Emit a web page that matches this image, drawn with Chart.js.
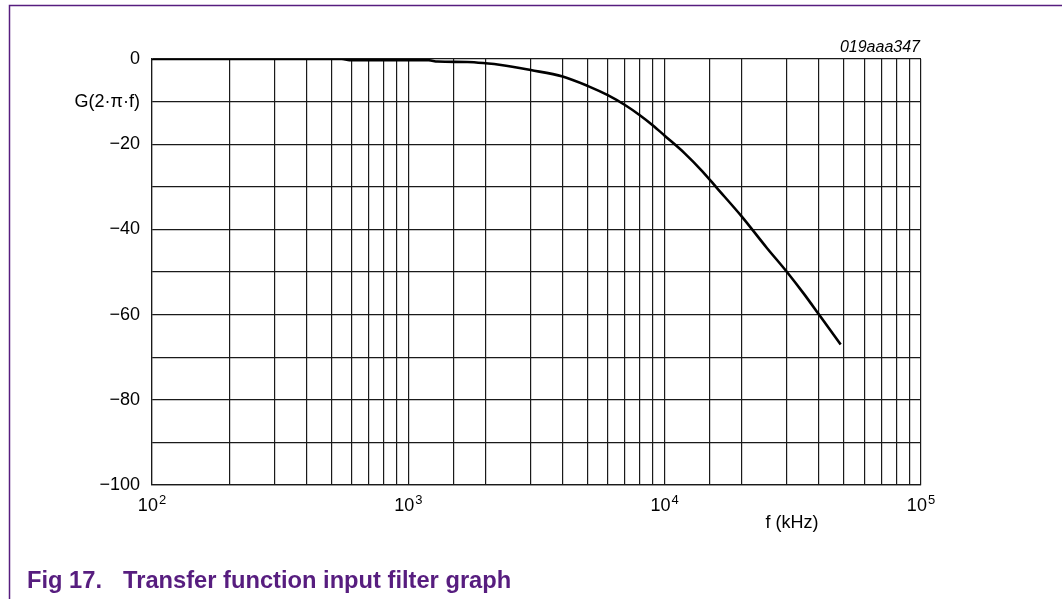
<!DOCTYPE html>
<html>
<head>
<meta charset="utf-8">
<script src="https://cdn.jsdelivr.net/npm/chart.js@4.4.0/dist/chart.umd.min.js"></script>
<style>
  html, body { margin: 0; padding: 0; background: #fff; }
  #wrap { position: relative; width: 1062px; height: 599px; }
</style>
</head>
<body>
<div id="wrap"><canvas id="myChart"></canvas></div>
<script>
// frequency in kHz and gain in dB
const freqKHz = [100, 200, 550, 600, 1200, 1300, 1700, 2000, 2300, 3000, 4000, 5000, 6000, 7000, 8000, 9000, 10000, 12000, 14000, 16000, 20000, 25000, 30000, 35000, 40000, 48600];
const gainDb  = [0, 0, 0, -0.3, -0.3, -0.6, -0.7, -1.0, -1.4, -2.6, -4.1, -6.3, -8.5, -10.8, -13.2, -15.6, -18, -22.2, -26.3, -30.3, -37, -44.3, -50, -55.2, -60, -67];

const xDecades = [100, 1000, 10000, 100000];
const xExponents = ["2", "3", "4", "5"];
const yTickLabels = { "0": "0", "-10": "G(2·π·f)", "-20": "−20", "-40": "−40", "-60": "−60", "-80": "−80", "-100": "−100" };

const purple = "#571d7f";
const fontFam = "'Liberation Sans', Arial, sans-serif";

// extra text: frame, caption, code, axis title, x labels with exponents
const decor = {
    id: "decor",
    afterDraw(chart) {
        const c = chart.ctx;
        const xs = chart.scales.x;
        c.save();
        // frame
        c.strokeStyle = purple;
        c.lineWidth = 1.5;
        c.beginPath();
        c.moveTo(1062, 5.5);
        c.lineTo(9.5, 5.5);
        c.lineTo(9.5, 599);
        c.stroke();

        c.fillStyle = "#000";
        c.textBaseline = "alphabetic";
        // decade labels
        xDecades.forEach((v, i) => {
            const px = xs.getPixelForValue(v);
            c.font = "18px " + fontFam;
            const wb = c.measureText("10").width;
            c.font = "13px " + fontFam;
            const we = c.measureText(xExponents[i]).width;
            const x0 = px - (wb + we + 1) / 2;
            c.font = "18px " + fontFam;
            c.textAlign = "left";
            c.fillText("10", x0, 511);
            c.font = "13px " + fontFam;
            c.fillText(xExponents[i], x0 + wb + 1, 504);
        });
        // axis title
        c.font = "18px " + fontFam;
        c.textAlign = "center";
        c.fillText("f (kHz)", 792, 528);
        // figure code
        c.font = "italic 16px " + fontFam;
        c.textAlign = "right";
        c.fillText("019aaa347", 920, 52);
        // caption
        c.fillStyle = purple;
        c.font = "bold 23.7px " + fontFam;
        c.textAlign = "left";
        c.fillText("Fig 17.", 27, 588);
        c.fillText("Transfer function input filter graph", 123, 588);
        c.restore();
    }
};

var ctx = document.getElementById("myChart").getContext("2d");
var chart = new Chart(ctx, {
    type: "line",
    data: {
        datasets: [
            {
                data: freqKHz.map((f, i) => ({ x: f, y: gainDb[i] })),
                borderColor: "#000",
                borderWidth: 2.6,
                pointRadius: 0,
                cubicInterpolationMode: "monotone",
                fill: false
            }
        ]
    },
    options: {
        responsive: true,
        maintainAspectRatio: false,
        animation: false,
        layout: { padding: { left: 0, top: 59, right: 141, bottom: 0 } },
        plugins: { legend: { display: false }, tooltip: { enabled: false } },
        scales: {
            x: {
                type: "logarithmic",
                min: 100,
                max: 100000,
                grid: { color: "#1a1a1a", lineWidth: 1.2, drawTicks: false },
                border: { color: "#1a1a1a", width: 1.2 },
                ticks: { autoSkip: false, callback: () => "" },
                afterFit: (s) => { s.height = 114; }
            },
            y: {
                min: -100,
                max: 0,
                grid: { color: "#1a1a1a", lineWidth: 1.2, drawTicks: false },
                border: { color: "#1a1a1a", width: 1.2 },
                ticks: {
                    stepSize: 10,
                    padding: 12,
                    color: "#000",
                    font: { family: fontFam, size: 18 },
                    callback: (v) => yTickLabels[String(v)] || ""
                },
                afterFit: (s) => { s.width = 152; }
            }
        }
    },
    plugins: [decor]
});
</script>
</body>
</html>
